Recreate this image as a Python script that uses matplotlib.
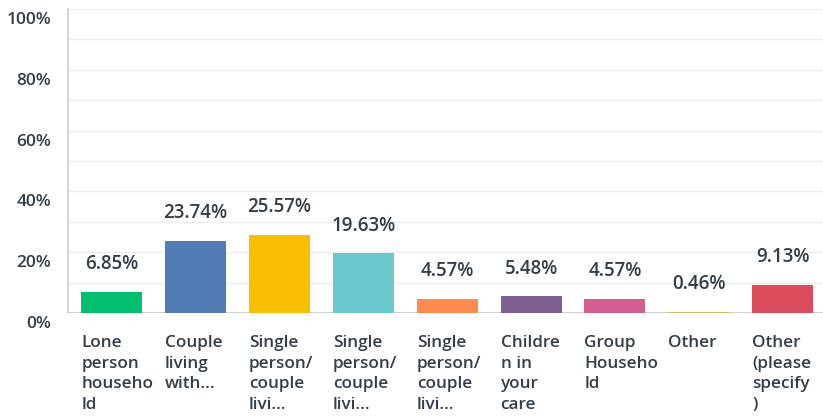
import numpy as np
import matplotlib.pyplot as plt
import matplotlib.transforms as mtransforms

labels = ["Lone\nperson\nhouseho\nld", "Couple\nliving\nwith...", "Single\nperson/\ncouple\nlivi...",
          "Single\nperson/\ncouple\nlivi...", "Single\nperson/\ncouple\nlivi...", "Childre\nn in\nyour\ncare",
          "Group\nHouseho\nld", "Other", "Other\n(please\nspecify\n)"]
values = [6.85, 23.74, 25.57, 19.63, 4.57, 5.48, 4.57, 0.46, 9.13]
colors = ["#00bf6f", "#507cb6", "#f9be00", "#6bc8cd", "#ff8b4f", "#7f5f90", "#d25f90", "#d0b960", "#db4d5c"]

plt.rcParams['font.family'] = ['Open Sans', 'DejaVu Sans']
txt = "#333e48"

fig = plt.figure(figsize=(8.23, 4.18), dpi=100)
ax = fig.add_axes([68 / 823, 105 / 418, 755 / 823, 304 / 418])

x = np.arange(len(values))
w = 0.727
ax.bar(x, values, width=w, color=colors, zorder=3)
ax.set_xlim(-0.52, len(values) - 0.52)
ax.set_ylim(0, 100)

for y in range(10, 101, 10):
    ax.axhline(y, color="#ececec", lw=1, zorder=1)
ax.axhline(0, color="#d0d0d0", lw=1.5, zorder=2)

for s in ["top", "right", "bottom"]:
    ax.spines[s].set_visible(False)
ax.spines["left"].set_color("#d0d0d0")
ax.spines["left"].set_linewidth(1.2)

ax.set_yticks(range(0, 101, 20))
ax.set_yticklabels([f"{v}%" for v in range(0, 101, 20)], fontsize=12.5, color=txt, fontweight="semibold")
ax.tick_params(axis="y", length=0, pad=12)
off = mtransforms.ScaledTranslation(0, -9 / 100, fig.dpi_scale_trans)
for lab in ax.get_yticklabels():
    lab.set_transform(lab.get_transform() + off)
ax.set_xticks([])

for i, v in enumerate(values):
    ax.annotate(f"{v:.2f}%", (i, v), xytext=(0, 20), textcoords="offset points",
                ha="center", va="center", fontsize=13.5, color=txt, fontweight="semibold")
    ax.annotate(labels[i], (i - w / 2, 0), xycoords=("data", "axes fraction"),
                xytext=(0, -16), textcoords="offset points", ha="left", va="top",
                fontsize=12.3, color=txt, fontweight="semibold", linespacing=1.38,
                annotation_clip=False)

fig.savefig("out.png", dpi=100)
